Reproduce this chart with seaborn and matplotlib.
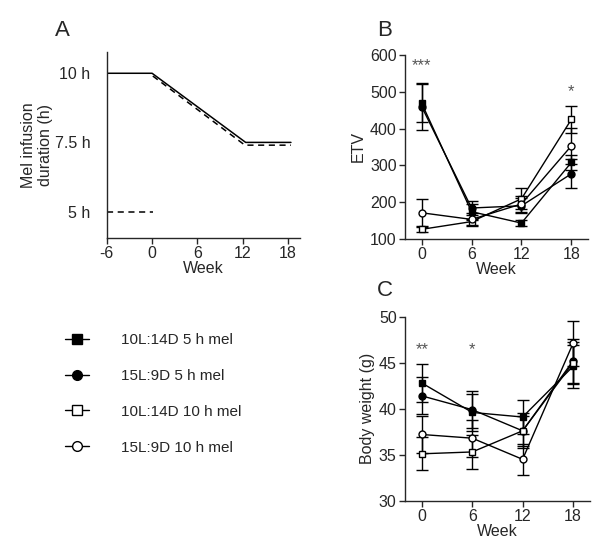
import numpy as np
import pandas as pd
import seaborn as sns
import matplotlib.pyplot as plt
from matplotlib.lines import Line2D

sns.set_theme(style='ticks')
plt.rcParams['font.family'] = ['Liberation Sans', 'DejaVu Sans']
plt.rcParams['axes.linewidth'] = 1.0
plt.rcParams['axes.unicode_minus'] = False

# 데이터
weeks = [0, 6, 12, 18]
groups = ['10L:14D 5 h mel', '15L:9D 5 h mel', '10L:14D 10 h mel', '15L:9D 10 h mel']
markers = ['s', 'o', 's', 'o']
faces = ['black', 'black', 'white', 'white']

etv_mean = [[469, 174, 143, 308],
            [460, 184, 190, 277],
            [126, 147, 209, 425],
            [171, 153, 195, 353]]
etv_err = [[52, 22, 8, 20],
           [64, 20, 20, 39],
           [8, 8, 29, 36],
           [38, 18, 22, 49]]

bw_mean = [[42.8, 39.6, 39.1, 44.6],
           [41.4, 39.9, 37.6, 45.2],
           [35.1, 35.3, 37.6, 45.0],
           [37.2, 36.8, 34.5, 47.1]]
bw_err = [[2.1, 2.0, 1.9, 2.3],
          [2.0, 2.0, 1.9, 2.4],
          [1.8, 1.8, 1.6, 2.3],
          [2.0, 2.0, 1.7, 2.4]]

# A 패널 (주입 시간)
a_solid_x = [-6, 0, 12.4, 18.4]
a_solid_y = [10, 10, 7.5, 7.5]
a_dash1_x = [-6, 0.1]
a_dash1_y = [5, 5]
a_dash2_x = [0.1, 12.3, 18.4]
a_dash2_y = [9.9, 7.4, 7.4]

fig = plt.figure(figsize=(6, 5.53), dpi=100)
axA = fig.add_axes([0.178, 0.570, 0.322, 0.336])
axB = fig.add_axes([0.675, 0.568, 0.305, 0.3325])
axC = fig.add_axes([0.675, 0.0946, 0.308, 0.3325])

fs = 11.5

sns.lineplot(x=a_solid_x, y=a_solid_y, color='black', lw=1.1, ax=axA)
sns.lineplot(x=a_dash1_x, y=a_dash1_y, color='black', lw=1.1, ls=(0, (4, 3)), ax=axA)
sns.lineplot(x=a_dash2_x, y=a_dash2_y, color='black', lw=1.1, ls=(0, (4, 3)), ax=axA)
axA.set_xlim(-6, 19.6)
axA.set_ylim(4.05, 10.77)
axA.set_xticks([-6, 0, 6, 12, 18])
axA.set_yticks([5, 7.5, 10])
axA.set_yticklabels(['5 h', '7.5 h', '10 h'])
axA.tick_params(axis='y', length=0, pad=12, labelsize=fs)
axA.tick_params(axis='x', length=4, width=1, labelsize=fs, pad=2)
axA.set_xlabel('Week', fontsize=fs, labelpad=0)
axA.set_ylabel('Mel infusion\nduration (h)', fontsize=fs, labelpad=1)


def draw_panel(ax, means, errs):
    for m, e, mk, fc in zip(means, errs, markers, faces):
        ax.errorbar(weeks, m, yerr=e, fmt='none', ecolor='black', elinewidth=1,
                    capsize=4, capthick=1, zorder=2)
        sns.lineplot(x=weeks, y=m, color='black', lw=1, marker=mk, markersize=5,
                     markerfacecolor=fc, markeredgecolor='black', markeredgewidth=1,
                     ax=ax, zorder=3)
    ax.set_xlim(-2, 20)
    ax.set_xticks(weeks)
    ax.tick_params(length=4, width=1, labelsize=fs, pad=2)
    ax.set_xlabel('Week', fontsize=fs, labelpad=0)


draw_panel(axB, etv_mean, etv_err)
axB.set_ylim(100, 600)
axB.set_yticks([100, 200, 300, 400, 500, 600])
axB.set_ylabel('ETV', fontsize=fs, labelpad=3)
axB.text(0, 572, '***', ha='center', va='center', fontsize=12, color='#555555')
axB.text(18, 500, '*', ha='center', va='center', fontsize=12, color='#555555')

draw_panel(axC, bw_mean, bw_err)
axC.set_ylim(30, 50)
axC.set_yticks([30, 35, 40, 45, 50])
axC.set_ylabel('Body weight (g)', fontsize=fs, labelpad=3)
axC.text(0, 46.4, '**', ha='center', va='center', fontsize=12, color='#555555')
axC.text(6, 46.4, '*', ha='center', va='center', fontsize=12, color='#555555')

for ax in (axA, axB, axC):
    sns.despine(ax=ax)

fig.text(62 / 600, 1 - 30 / 553, 'A', fontsize=16, ha='center', va='center')
fig.text(385 / 600, 1 - 30 / 553, 'B', fontsize=16, ha='center', va='center')
fig.text(385 / 600, 1 - 290 / 553, 'C', fontsize=16, ha='center', va='center')

handles = [Line2D([0], [0], color='black', lw=1, marker=mk, markersize=7,
                  markerfacecolor=fc, markeredgecolor='black')
           for mk, fc in zip(markers, faces)]
fig.legend(handles, groups, loc='upper left', bbox_to_anchor=(0.108, 1 - 333 / 553),
           frameon=False, fontsize=11, handlelength=1.6, handletextpad=2.1,
           labelspacing=1.43, borderpad=0, borderaxespad=0)

fig.savefig('out.png', dpi=100)
